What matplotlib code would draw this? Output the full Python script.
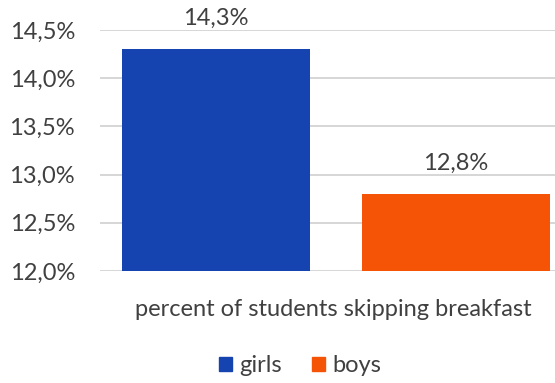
import matplotlib
matplotlib.use('Agg')
import matplotlib.pyplot as plt
from matplotlib.patches import Patch

# series values (percent)
series = ['girls', 'boys']
values = [14.3, 12.8]
colors = ['#1543b0', '#f55406']
category = 'percent of students skipping breakfast'
yticks = [12.0, 12.5, 13.0, 13.5, 14.0, 14.5]

plt.rcParams['font.family'] = ['Lato', 'DejaVu Sans']
txt = '#404040'
fs = 17

fig = plt.figure(figsize=(5.55, 3.83), dpi=100)
ax = fig.add_axes([100/555, 1 - 271/383, 455/555, (271 - 30)/383])

pos = [0, 1]
bars = ax.bar(pos, [v - yticks[0] for v in values], bottom=yticks[0],
              width=0.785, color=colors, zorder=3)

for b, v in zip(bars, values):
    ax.text(b.get_x() + b.get_width()/2, v + 0.32, ('%.1f%%' % v).replace('.', ','),
            ha='center', va='center', fontsize=fs, color=txt)

ax.set_xlim(-0.484, 1.415)
ax.set_ylim(yticks[0], yticks[-1])
ax.set_yticks(yticks)
ax.set_yticklabels([('%.1f%%' % t).replace('.', ',') for t in yticks],
                   fontsize=fs, color=txt)
ax.set_xticks([])
ax.tick_params(axis='y', length=0, pad=18)
ax.grid(axis='y', color='#d0d0d0', linewidth=1.2, zorder=0)
for s in ax.spines.values():
    s.set_visible(False)

fig.text(333/555, 1 - 310/383, category, ha='center', va='center',
         fontsize=fs, color=txt)

handles = [Patch(color=c, label=s) for c, s in zip(colors, series)]
fig.legend(handles=handles, loc='center', bbox_to_anchor=(300/555, 1 - 366/383),
           ncol=2, frameon=False, fontsize=fs, handlelength=0.55, handleheight=0.55,
           handletextpad=0.3, columnspacing=1.3, labelcolor=txt)

fig.savefig('out.png', dpi=100)
